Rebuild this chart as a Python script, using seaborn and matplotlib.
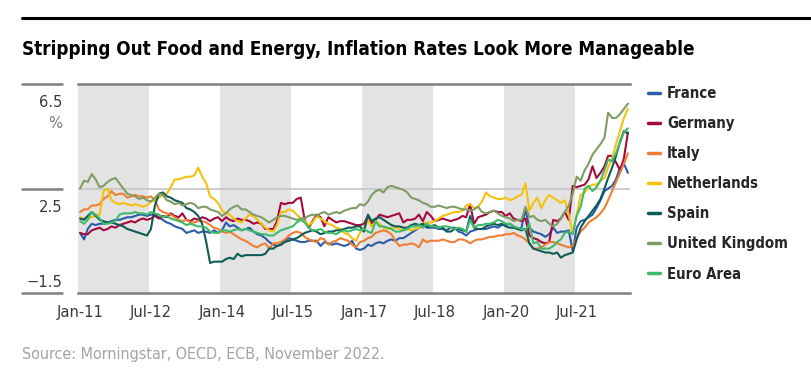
import os
import pandas as pd
import matplotlib
matplotlib.use("Agg")
import matplotlib.pyplot as plt
from matplotlib import font_manager as fm
from matplotlib.lines import Line2D
from matplotlib.transforms import ScaledTranslation, blended_transform_factory
import seaborn as sns

# --- DATA (monthly core inflation, % y/y, Jan-2011 .. Aug-2022) ---
START, END = "2011-01-01", "2022-08-01"

FRANCE = [
    0.8, 0.55, 0.95, 1.15, 1.1, 1.15, 1.15, 1.2, 1.25, 1.3, 1.3, 1.35,
    1.4, 1.4, 1.45, 1.5, 1.5, 1.45, 1.5, 1.5, 1.4, 1.3, 1.2, 1.15,
    1.05, 1.0, 0.95, 0.8, 0.85, 0.9, 0.8, 0.85, 0.85, 0.8, 0.9, 0.8,
    0.9, 1.2, 1.05, 1.1, 1.0, 0.9, 0.95, 1.0, 0.85, 0.75, 0.7, 0.6,
    0.45, 0.35, 0.3, 0.35, 0.5, 0.6, 0.55, 0.5, 0.45, 0.45, 0.5, 0.5,
    0.5, 0.3, 0.45, 0.4, 0.35, 0.4, 0.35, 0.3, 0.35, 0.5, 0.2, 0.15,
    0.2, 0.35, 0.3, 0.4, 0.45, 0.4, 0.5, 0.55, 0.5, 0.6, 0.6, 0.7,
    0.8, 0.9, 1.0, 1.1, 1.0, 1.0, 1.0, 0.95, 0.95, 0.9, 1.0, 1.0,
    0.85, 0.8, 0.7, 0.85, 0.9, 0.95, 0.95, 0.95, 1.0, 1.05, 1.0, 1.1,
    1.1, 1.15, 1.05, 0.95, 1.0, 1.7, 1.0, 0.85, 0.8, 0.75, 0.65, 0.75,
    1.0, 0.8, 0.85, 0.85, 0.9, 0.1, 1.0, 1.25, 1.3, 1.4, 1.5, 1.75,
    2.05, 2.4, 2.5, 2.6, 2.85, 3.3, 3.45, 3.1,
]
GERMANY = [
    0.8, 0.75, 0.75, 0.9, 0.95, 1.0, 0.9, 0.95, 1.05, 1.0, 1.1, 1.15,
    1.2, 1.25, 1.2, 1.3, 1.35, 1.3, 1.35, 1.45, 1.35, 1.45, 1.4, 1.55,
    1.45, 1.4, 1.55, 1.3, 1.25, 1.35, 1.3, 1.4, 1.35, 1.25, 1.35, 1.4,
    1.25, 1.4, 1.3, 1.25, 1.35, 1.3, 1.3, 1.25, 1.15, 1.2, 1.15, 0.95,
    0.95, 0.95, 1.25, 1.95, 1.9, 1.95, 1.95, 2.1, 2.15, 1.3, 1.0, 1.25,
    1.5, 1.4, 1.05, 1.4, 1.3, 1.2, 1.25, 1.25, 1.2, 1.15, 1.1, 1.1,
    1.15, 1.45, 1.15, 1.3, 1.5, 1.45, 1.4, 1.45, 1.5, 1.55, 1.2, 1.3,
    1.3, 1.35, 1.5, 1.25, 1.6, 1.45, 1.25, 1.3, 1.35, 1.3, 1.25, 1.3,
    1.35, 1.45, 1.4, 1.9, 1.15, 1.4, 1.45, 1.5, 1.6, 1.65, 1.6, 1.6,
    1.45, 1.55, 1.35, 1.3, 1.25, 1.35, 0.7, 0.6, 0.55, 0.45, 0.4, 0.45,
    1.3, 1.25, 1.35, 1.6, 1.3, 2.6, 2.55, 2.6, 2.65, 2.85, 3.35, 2.9,
    3.1, 3.35, 3.75, 3.75, 3.5, 3.2, 3.65, 4.65,
]
ITALY = [
    1.6, 1.7, 1.7, 1.85, 1.85, 1.9, 2.1, 2.2, 2.4, 2.25, 2.3, 2.3,
    2.15, 2.2, 2.25, 2.2, 2.2, 2.15, 2.2, 2.05, 1.7, 1.6, 1.55, 1.5,
    1.4, 1.3, 1.25, 1.3, 1.2, 1.2, 1.25, 1.25, 1.2, 1.1, 1.0, 0.95,
    0.85, 0.8, 0.85, 0.75, 0.65, 0.55, 0.5, 0.4, 0.3, 0.25, 0.35, 0.4,
    0.2, 0.4, 0.4, 0.45, 0.55, 0.7, 0.8, 0.85, 0.8, 0.65, 0.55, 0.5,
    0.45, 0.6, 0.55, 0.35, 0.45, 0.5, 0.6, 0.55, 0.5, 0.35, 0.25, 0.45,
    0.5, 0.6, 0.65, 0.8, 0.85, 0.9, 0.85, 0.75, 0.5, 0.3, 0.35, 0.35,
    0.4, 0.35, 0.25, 0.55, 0.45, 0.5, 0.5, 0.5, 0.55, 0.5, 0.45, 0.45,
    0.55, 0.55, 0.5, 0.4, 0.5, 0.55, 0.55, 0.6, 0.65, 0.65, 0.7, 0.7,
    0.75, 0.75, 0.8, 0.7, 0.65, 0.55, 0.4, 0.2, 0.2, 0.25, 0.35, 0.45,
    0.45, 0.4, 0.35, 0.3, 0.25, 0.3, 0.6, 0.85, 1.0, 1.2, 1.3, 1.4,
    1.55, 1.75, 2.05, 2.4, 2.75, 3.1, 3.45, 3.85,
]
NETHERLANDS = [
    1.4, 1.35, 1.4, 1.4, 1.45, 1.5, 2.4, 2.5, 2.05, 1.95, 1.9, 1.95,
    1.9, 1.85, 1.9, 1.85, 1.8, 1.85, 2.0, 2.05, 2.15, 2.25, 2.3, 2.55,
    2.85, 2.85, 2.9, 2.95, 2.95, 3.0, 3.3, 2.95, 2.7, 2.2, 2.1, 1.95,
    1.65, 1.55, 1.5, 1.35, 1.25, 1.2, 1.35, 1.5, 1.45, 1.3, 1.15, 1.0,
    0.9, 0.85, 1.1, 1.6, 1.6, 1.7, 1.65, 1.5, 1.35, 1.25, 1.1, 1.2,
    1.45, 1.35, 1.25, 1.15, 1.1, 1.0, 0.95, 0.8, 0.75, 0.6, 0.5, 0.8,
    1.0, 1.3, 1.05, 1.25, 1.15, 1.0, 0.95, 1.0, 1.0, 0.95, 0.9, 0.95,
    0.9, 0.95, 1.0, 1.15, 1.2, 1.2, 1.25, 1.35, 1.45, 1.5, 1.55, 1.6,
    1.6, 1.65, 1.85, 1.9, 1.75, 1.8, 2.0, 2.35, 2.2, 2.15, 2.1, 2.1,
    2.15, 2.05, 2.1, 2.2, 2.25, 2.7, 1.65, 1.95, 2.15, 1.75, 2.05, 2.25,
    2.15, 2.05, 1.95, 2.05, 1.5, 0.75, 1.5, 2.25, 2.35, 2.55, 2.65, 2.65,
    2.8, 2.9, 3.3, 3.65, 4.2, 4.7, 5.2, 5.55,
]
SPAIN = [
    1.35, 1.3, 1.45, 1.6, 1.45, 1.3, 1.25, 1.2, 1.2, 1.15, 1.1, 1.05,
    0.95, 0.9, 0.85, 0.8, 0.75, 0.7, 0.95, 1.85, 2.3, 2.35, 2.2, 2.15,
    2.05, 2.0, 1.95, 1.75, 1.7, 1.6, 1.45, 1.15, 0.45, -0.35, -0.3, -0.3,
    -0.3, -0.2, -0.15, -0.2, 0.0, -0.1, -0.05, -0.05, -0.05, -0.05, -0.05, 0.0,
    0.2, 0.2, 0.3, 0.35, 0.45, 0.5, 0.55, 0.6, 0.7, 0.8, 0.85, 0.9,
    0.85, 0.75, 0.8, 0.85, 0.85, 0.9, 0.9, 0.95, 1.0, 1.0, 1.05, 1.05,
    0.85, 1.5, 1.25, 1.35, 1.4, 1.3, 1.2, 1.1, 1.05, 1.05, 1.0, 1.0,
    1.1, 1.15, 1.1, 1.15, 1.05, 1.05, 1.1, 1.0, 1.0, 0.85, 0.85, 0.95,
    0.95, 0.9, 0.85, 1.45, 1.0, 0.95, 0.95, 1.05, 1.1, 1.15, 1.1, 1.15,
    1.05, 1.0, 1.0, 0.95, 0.9, 0.95, 0.4, 0.2, 0.15, 0.1, 0.05, 0.05,
    0.0, 0.05, -0.15, -0.05, 0.0, 0.05, 0.55, 1.0, 1.25, 1.45, 1.65, 1.85,
    2.1, 2.5, 2.9, 3.3, 3.75, 4.3, 4.7, 4.6,
]
UNITED_KINGDOM = [
    2.5, 2.8, 2.75, 3.05, 2.85, 2.55, 2.6, 2.75, 2.85, 2.9, 2.7, 2.5,
    2.3, 2.25, 2.2, 2.1, 2.15, 2.05, 2.0, 2.15, 2.3, 2.25, 2.05, 2.0,
    1.9, 1.95, 1.85, 1.9, 1.95, 1.9, 1.75, 1.8, 1.8, 1.7, 1.65, 1.6,
    1.45, 1.55, 1.7, 1.8, 1.85, 1.7, 1.7, 1.6, 1.5, 1.45, 1.4, 1.3,
    1.2, 1.3, 1.4, 1.45, 1.45, 1.4, 1.35, 1.3, 1.35, 1.35, 1.45, 1.5,
    1.45, 1.55, 1.6, 1.5, 1.55, 1.6, 1.55, 1.65, 1.7, 1.75, 1.75, 1.9,
    1.85, 2.0, 2.25, 2.4, 2.45, 2.35, 2.55, 2.6, 2.55, 2.5, 2.45, 2.35,
    2.15, 2.1, 2.05, 1.95, 1.9, 1.8, 1.8, 1.85, 1.8, 1.75, 1.8, 1.8,
    1.75, 1.7, 1.7, 1.65, 1.7, 1.8, 1.6, 1.55, 1.6, 1.65, 1.55, 1.45,
    1.4, 1.35, 1.25, 1.3, 1.3, 1.8, 1.4, 1.45, 1.3, 1.25, 1.3, 1.15,
    1.05, 1.15, 1.35, 1.6, 1.85, 2.3, 2.95, 2.8, 3.2, 3.45, 3.8, 4.0,
    4.2, 4.45, 5.4, 5.2, 5.2, 5.35, 5.55, 5.75,
]
EURO_AREA = [
    1.25, 1.15, 1.3, 1.6, 1.5, 1.35, 1.15, 1.15, 1.2, 1.25, 1.5, 1.55,
    1.55, 1.55, 1.6, 1.55, 1.55, 1.5, 1.6, 1.55, 1.5, 1.4, 1.45, 1.35,
    1.3, 1.25, 1.2, 1.1, 1.15, 1.1, 1.05, 1.05, 1.0, 0.85, 0.8, 0.8,
    0.9, 0.9, 0.85, 0.9, 0.95, 0.9, 0.95, 0.9, 0.85, 0.8, 0.75, 0.75,
    0.7, 0.7, 0.8, 0.9, 0.95, 1.0, 1.05, 1.2, 1.3, 1.2, 1.0, 0.9,
    0.9, 0.95, 0.85, 0.8, 0.8, 0.75, 0.85, 0.9, 0.85, 0.9, 0.95, 0.9,
    0.95, 0.85, 0.8, 1.25, 1.05, 1.05, 1.0, 0.95, 0.85, 0.85, 0.9, 0.95,
    1.05, 1.05, 1.1, 1.0, 1.15, 1.05, 1.05, 1.0, 1.05, 1.05, 1.0, 0.95,
    1.0, 0.95, 0.85, 1.3, 1.0, 1.1, 1.1, 1.15, 1.15, 1.2, 1.3, 1.25,
    1.15, 1.15, 1.05, 1.0, 0.95, 0.9, 1.15, 0.4, 0.45, 0.2, 0.2, 0.2,
    0.3, 0.45, 0.55, 0.8, 0.85, 0.75, 1.45, 1.8, 2.5, 2.6, 2.4, 2.55,
    2.8, 3.2, 3.6, 3.55, 3.85, 4.25, 4.65, 4.8,
]

SERIES = {
    "France": FRANCE,
    "Germany": GERMANY,
    "Italy": ITALY,
    "Netherlands": NETHERLANDS,
    "Spain": SPAIN,
    "United Kingdom": UNITED_KINGDOM,
    "Euro Area": EURO_AREA,
}
COLORS = {
    "France": "#2b5ba9",
    "Germany": "#a50a3e",
    "Italy": "#ef7d33",
    "Netherlands": "#f4c20d",
    "Spain": "#0e5c55",
    "United Kingdom": "#7f9c64",
    "Euro Area": "#3fba6b",
}

Y_TICKS = [-1.5, 2.5, 6.5]
Y_TICK_LABELS = ["\u22121.5", "2.5", "6.5"]
X_TICKS = ["2011-01-01", "2012-07-01", "2014-01-01", "2015-07-01",
           "2017-01-01", "2018-07-01", "2020-01-01", "2021-07-01"]
X_TICK_LABELS = ["Jan-11", "Jul-12", "Jan-14", "Jul-15",
                 "Jan-17", "Jul-18", "Jan-20", "Jul-21"]
SHADE_STARTS = [2011, 2014, 2017, 2020]  # 18-month grey bands

TITLE = "Stripping Out Food and Energy, Inflation Rates Look More Manageable"
SOURCE = "Source: Morningstar, OECD, ECB, November 2022."

GRID_DARK = "#7f7f7f"
TEXT_DARK = "#3a3a3a"


# --- FONTS: prefer a narrow face, fall back to Roboto ---
NARROW_PREFIXES = ["LiberationSansNarrow", "NotoSans-Condensed",
                   "DejaVuSansCondensed", "RobotoCondensed", "OpenSans-Condensed"]


def find_font(bold):
    files = sorted({f.fname for f in fm.fontManager.ttflist})
    for prefix in NARROW_PREFIXES:
        for path in files:
            stem = os.path.splitext(os.path.basename(path))[0]
            if not stem.startswith(prefix):
                continue
            rest = stem[len(prefix):].strip("-_ ").lower()
            if bold and rest == "bold":
                return fm.FontProperties(fname=path)
            if not bold and rest in ("", "regular"):
                return fm.FontProperties(fname=path)
    return fm.FontProperties(family="Roboto", weight="bold" if bold else "normal")


FONT_REG = find_font(False)
FONT_BOLD = find_font(True)


def font(base, size):
    fp = base.copy()
    fp.set_size(size)
    return fp


def fit_size(fp, text, width_px, fig):
    # scale the font size so the text spans width_px
    r = fig.canvas.get_renderer()
    t = fig.text(0, 0, text, fontproperties=font(fp, 20))
    w = t.get_window_extent(renderer=r).width
    t.remove()
    return 20 * width_px / w


# --- DATA PREP ---
dates = pd.date_range(START, END, freq="MS")
df = pd.DataFrame({"date": dates, **SERIES}).melt(
    id_vars="date", var_name="region", value_name="rate"
)

# --- FIGURE ---
sns.set_theme(style="white")

W, H = 811, 384
fig = plt.figure(figsize=(W / 100, H / 100), dpi=100)
ax = fig.add_axes([78 / W, 1 - 293 / H, (630 - 78) / W, (293 - 84) / H])

title_size = fit_size(FONT_BOLD, TITLE, 671, fig)
tick_size = fit_size(FONT_REG, "Jan-11", 47, fig)
source_size = fit_size(FONT_REG, SOURCE, 362, fig)
legend_size = fit_size(FONT_BOLD, "United Kingdom", 121, fig)

# grey 18-month bands
for y0 in SHADE_STARTS:
    ax.axvspan(
        pd.Timestamp(f"{y0}-01-01") - pd.Timedelta(days=16),
        pd.Timestamp(f"{y0 + 1}-07-01") - pd.Timedelta(days=16),
        color="#e3e3e3", lw=0, zorder=0,
    )

ax.axhline(2.5, color="#c8c8c8", lw=1.3, zorder=1)

sns.lineplot(
    data=df, x="date", y="rate", hue="region", palette=COLORS,
    hue_order=list(SERIES), linewidth=1.5, ax=ax, zorder=3,
)

ax.set_xlim(pd.Timestamp(START) - pd.Timedelta(days=16),
            pd.Timestamp(END) + pd.Timedelta(days=16))
ax.set_ylim(-1.5, 6.5)
ax.set_xlabel("")
ax.set_ylabel("")

for side in ["left", "right"]:
    ax.spines[side].set_visible(False)
for side in ["top", "bottom"]:
    ax.spines[side].set_color(GRID_DARK)
    ax.spines[side].set_linewidth(1.8)

# x ticks
ax.set_xticks(pd.to_datetime(X_TICKS), X_TICK_LABELS)
ax.tick_params(axis="x", length=0, pad=9, labelcolor=TEXT_DARK)
for lab in ax.get_xticklabels():
    lab.set_fontproperties(font(FONT_REG, tick_size))

# y ticks: labels hang under their grid line (bottom one sits above)
ax.set_yticks(Y_TICKS, Y_TICK_LABELS)
ax.tick_params(axis="y", length=0, pad=11.5, labelcolor=TEXT_DARK)
for lab, dy in zip(ax.get_yticklabels(), [12, -18, -17]):
    lab.set_fontproperties(font(FONT_REG, tick_size))
    lab.set_transform(lab.get_transform() + ScaledTranslation(0, dy / 100, fig.dpi_scale_trans))

# short grid stubs left of the plot
stub = blended_transform_factory(ax.transAxes, ax.transData)
for v in Y_TICKS:
    ax.add_line(Line2D([-56 / 552, -16 / 552], [v, v], transform=stub,
                       color=GRID_DARK, lw=1.8, clip_on=False))
ax.text(-16 / 552, 5.0, "%", transform=stub, ha="right", va="center",
        fontproperties=font(FONT_REG, tick_size), color="#7a7a7a")

# legend
handles, labels = ax.get_legend_handles_labels()
for h in handles:
    h.set_linewidth(2.5)
ax.legend(
    handles, labels, loc="upper left", bbox_to_anchor=(648 / W, 1 - 86 / H),
    bbox_transform=fig.transFigure, frameon=False, borderpad=0,
    borderaxespad=0, handlelength=0.78, handletextpad=0.5, labelspacing=1.02,
    prop=font(FONT_BOLD, legend_size),
)

# header rule, title, source
fig.add_artist(Line2D([22 / W, 1.0], [1 - 18 / H] * 2, color="black", lw=2.2))
fig.text(22 / W, 1 - 55 / H, TITLE, ha="left", va="baseline",
         fontproperties=font(FONT_BOLD, title_size), color="black")
fig.text(22 / W, 1 - 354 / H, SOURCE, ha="left", va="center",
         fontproperties=font(FONT_REG, source_size), color="#a3a3a3")

fig.savefig("out.png", dpi=100, facecolor="white")
